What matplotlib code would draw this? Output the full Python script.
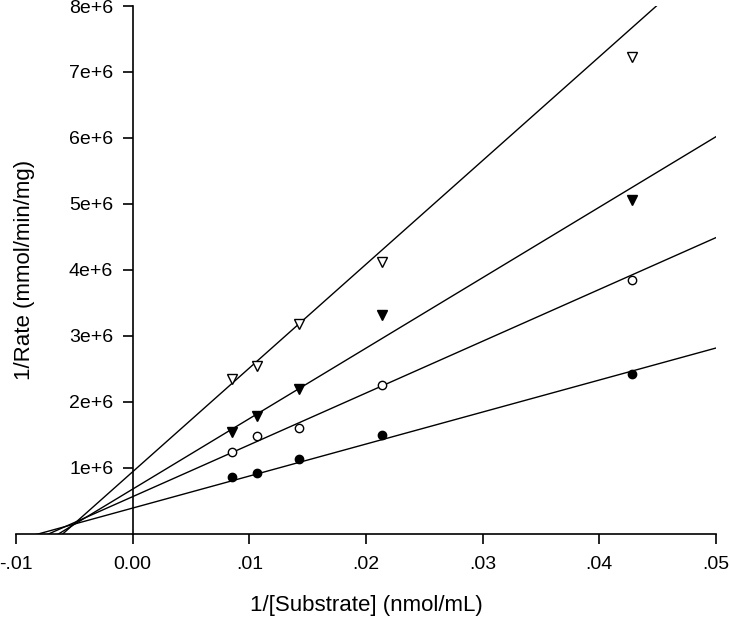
import numpy as np
import matplotlib
matplotlib.use("Agg")
from matplotlib import pyplot as plt

plt.rcParams['font.family'] = ['Liberation Sans', 'DejaVu Sans']

# 1/[S] values (nmol/mL)^-1
inv_substrate = [0.00849, 0.01063, 0.01423, 0.02134, 0.04277]

# 1/Rate for each inhibitor level
filled_circles = [0.86e6, 0.92e6, 1.14e6, 1.50e6, 2.42e6]
open_circles = [1.24e6, 1.48e6, 1.60e6, 2.26e6, 3.85e6]
filled_triangles = [1.55e6, 1.79e6, 2.20e6, 3.32e6, 5.06e6]
open_triangles = [2.35e6, 2.55e6, 3.18e6, 4.12e6, 7.23e6]

# fitted lines (slope, intercept)
slopes = [4.85e7, 7.85e7, 1.068e8, 1.572e8]
intercepts = [0.393e6, 0.566e6, 0.680e6, 0.943e6]

xtick_vals = [-0.01, 0.0, 0.01, 0.02, 0.03, 0.04, 0.05]
xtick_labels = ['-.01', '0.00', '.01', '.02', '.03', '.04', '.05']
ytick_vals = [1e6, 2e6, 3e6, 4e6, 5e6, 6e6, 7e6, 8e6]
ytick_labels = ['1e+6', '2e+6', '3e+6', '4e+6', '5e+6', '6e+6', '7e+6', '8e+6']

fig = plt.figure(figsize=(7.3, 6.23), dpi=100)
ax = fig.add_axes([16/730, 1 - 534/623, 700/730, 528/623])

xx = np.array([-0.01, 0.05])
for m, b in zip(slopes, intercepts):
  ax.plot(xx, m * xx + b, color='black', lw=1.0)

ax.plot(inv_substrate, filled_circles, 'o', ms=6, mfc='black', mec='black', mew=1)
ax.plot(inv_substrate, open_circles, 'o', ms=6, mfc='white', mec='black', mew=1)
ax.plot(inv_substrate, filled_triangles, 'v', ms=7.5, mfc='black', mec='black', mew=1)
ax.plot(inv_substrate, open_triangles, 'v', ms=7.5, mfc='white', mec='black', mew=1)

ax.set_xlim(-0.01, 0.05)
ax.set_ylim(0, 8e6)

ax.spines['top'].set_visible(False)
ax.spines['right'].set_visible(False)
ax.spines['left'].set_position(('data', 0))
for s in ['left', 'bottom']:
  ax.spines[s].set_linewidth(1.2)

ax.set_xticks(xtick_vals)
ax.set_xticklabels(xtick_labels)
ax.set_yticks(ytick_vals)
ax.set_yticklabels(ytick_labels)
ax.tick_params(axis='both', direction='out', length=7, width=1.2, labelsize=14)
ax.tick_params(axis='x', pad=9)
ax.tick_params(axis='y', pad=7)

ax.set_xlabel('1/[Substrate] (nmol/mL)', fontsize=16)
ax.set_ylabel('1/Rate (mmol/min/mg)', fontsize=16)
ax.xaxis.set_label_coords(0.5, -0.116)
ax.yaxis.set_label_coords(0.027, 0.5)

plt.savefig('out.png', dpi=100)
